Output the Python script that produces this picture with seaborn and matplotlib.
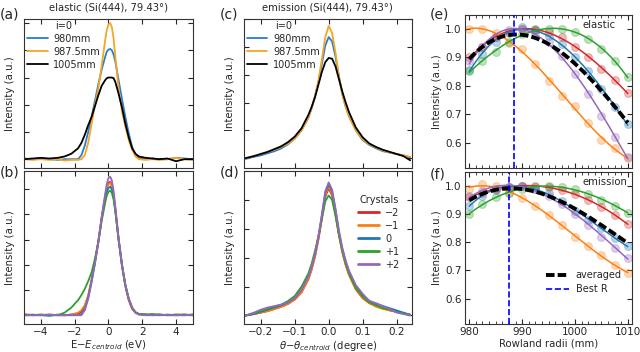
import numpy as np
import matplotlib
matplotlib.use("Agg")
import matplotlib.pyplot as plt
import seaborn as sns
from matplotlib.ticker import MultipleLocator

# ---------------- data ----------------
# (a)/(b): energy axis (eV)
x_ev = [-5, -4.5, -4, -3.5, -3, -2.6, -2.2, -1.8, -1.6, -1.4, -1.2, -1.0, -0.8, -0.6,
        -0.4, -0.2, -0.1, 0, 0.1, 0.2, 0.3, 0.4, 0.6, 0.8, 1.0, 1.2, 1.4, 1.6, 1.8, 2.2,
        2.6, 3, 3.5, 4, 4.5, 5]

el_980 = [0.005, 0.0, 0.005, 0.0, -0.005, 0.0, 0.0, 0.0, 0.03, 0.1, 0.2, 0.31, 0.43, 0.55,
          0.66, 0.75, 0.79, 0.805, 0.81, 0.8, 0.77, 0.72, 0.58, 0.44, 0.31, 0.19, 0.09,
          0.03, 0.01, 0.0, 0.005, 0.0, 0.0, 0.01, 0.005, 0.0]
el_9875 = [0.0, -0.005, 0.0, -0.005, 0.0, -0.01, -0.005, -0.005, 0.0, 0.03, 0.12, 0.26,
           0.4, 0.52, 0.69, 0.87, 0.95, 0.99, 1.0, 0.97, 0.89, 0.76, 0.52, 0.35, 0.24,
           0.14, 0.07, 0.02, 0.0, -0.005, 0.0, -0.005, 0.0, 0.01, 0.0, -0.005]
el_1005 = [0.0, 0.005, 0.01, 0.005, 0.01, 0.02, 0.04, 0.08, 0.12, 0.18, 0.25, 0.31, 0.39,
           0.47, 0.54, 0.58, 0.595, 0.6, 0.6, 0.6, 0.595, 0.57, 0.48, 0.38, 0.26, 0.16,
           0.08, 0.04, 0.02, 0.01, 0.005, 0.0, 0.005, -0.015, 0.0, 0.0]

el_m2 = [0.005, 0.0, 0.0, 0.005, 0.0, 0.0, 0.005, 0.01, 0.03, 0.07, 0.15, 0.28, 0.43, 0.59,
         0.78, 0.94, 1.01, 1.05, 1.06, 1.03, 0.96, 0.85, 0.6, 0.39, 0.23, 0.12, 0.05, 0.02,
         0.01, 0.005, 0.0, 0.005, 0.0, 0.0, 0.005, 0.0]
el_m1 = [0.01, 0.0, 0.005, 0.0, 0.0, 0.0, 0.005, 0.02, 0.04, 0.08, 0.16, 0.28, 0.42, 0.58,
         0.77, 0.93, 1.0, 1.04, 1.05, 1.02, 0.95, 0.84, 0.6, 0.39, 0.23, 0.12, 0.05, 0.02,
         0.005, 0.0, 0.005, 0.0, 0.0, 0.005, 0.0, 0.0]
el_0 = [0.0, 0.005, 0.0, -0.005, 0.005, 0.0, 0.0, 0.0, 0.01, 0.05, 0.14, 0.27, 0.42, 0.58,
        0.77, 0.92, 0.98, 1.01, 1.02, 1.0, 0.94, 0.84, 0.6, 0.4, 0.24, 0.13, 0.06, 0.02,
        0.01, 0.005, 0.0, 0.0, 0.005, 0.0, 0.0, 0.005]
el_p1 = [0.0, 0.0, 0.005, 0.0, 0.0, 0.02, 0.06, 0.12, 0.16, 0.21, 0.27, 0.34, 0.45, 0.58,
         0.75, 0.89, 0.95, 0.98, 0.99, 0.97, 0.92, 0.83, 0.6, 0.4, 0.24, 0.13, 0.06, 0.025,
         0.01, 0.005, 0.01, 0.005, 0.0, 0.005, 0.005, 0.0]
el_p2 = [0.0, 0.0, 0.0, 0.005, 0.0, 0.0, 0.0, 0.0, 0.0, 0.04, 0.13, 0.26, 0.41, 0.58,
         0.78, 0.96, 1.04, 1.09, 1.1, 1.07, 0.99, 0.87, 0.61, 0.4, 0.24, 0.13, 0.06, 0.02,
         0.005, 0.0, 0.0, 0.005, 0.0, 0.0, 0.0, 0.005]

# (c)/(d): angle axis (degree)
x_th = [-0.245, -0.22, -0.2, -0.18, -0.16, -0.14, -0.12, -0.1, -0.08, -0.06, -0.05, -0.04,
        -0.03, -0.02, -0.01, 0, 0.01, 0.02, 0.03, 0.04, 0.05, 0.06, 0.08, 0.1, 0.12, 0.14,
        0.16, 0.18, 0.2, 0.22, 0.24]

em_980 = [-0.005, 0.01, 0.02, 0.035, 0.05, 0.07, 0.1, 0.14, 0.2, 0.29, 0.36, 0.45, 0.55,
          0.68, 0.81, 0.87, 0.84, 0.73, 0.59, 0.46, 0.37, 0.3, 0.2, 0.13, 0.095, 0.07, 0.05,
          0.04, 0.03, 0.02, 0.005]
em_9875 = [0.0, 0.015, 0.03, 0.045, 0.06, 0.08, 0.105, 0.14, 0.2, 0.29, 0.36, 0.45, 0.56,
           0.71, 0.87, 0.95, 0.9, 0.76, 0.59, 0.46, 0.37, 0.3, 0.2, 0.135, 0.1, 0.075, 0.055,
           0.04, 0.03, 0.02, 0.01]
em_1005 = [0.0, 0.015, 0.03, 0.045, 0.065, 0.085, 0.115, 0.155, 0.215, 0.31, 0.37, 0.44,
           0.53, 0.62, 0.69, 0.72, 0.715, 0.66, 0.57, 0.48, 0.4, 0.33, 0.22, 0.15, 0.105,
           0.08, 0.06, 0.045, 0.03, 0.015, -0.015]

em_m2 = [0.0, 0.01, 0.02, 0.03, 0.045, 0.06, 0.08, 0.11, 0.16, 0.25, 0.32, 0.41, 0.53, 0.67,
         0.82, 0.88, 0.83, 0.7, 0.56, 0.44, 0.35, 0.28, 0.18, 0.12, 0.085, 0.065, 0.05,
         0.035, 0.025, 0.015, 0.005]
em_m1 = [0.0, 0.01, 0.02, 0.03, 0.045, 0.06, 0.08, 0.11, 0.16, 0.25, 0.32, 0.41, 0.53, 0.68,
         0.83, 0.895, 0.84, 0.71, 0.56, 0.44, 0.35, 0.28, 0.18, 0.12, 0.085, 0.06, 0.045,
         0.035, 0.025, 0.015, 0.005]
em_0 = [0.0, 0.01, 0.025, 0.04, 0.055, 0.07, 0.09, 0.12, 0.18, 0.27, 0.34, 0.43, 0.55, 0.69,
        0.85, 0.91, 0.86, 0.73, 0.58, 0.46, 0.37, 0.3, 0.2, 0.14, 0.1, 0.08, 0.065, 0.05,
        0.035, 0.02, 0.005]
em_p1 = [0.0, 0.015, 0.03, 0.045, 0.06, 0.075, 0.1, 0.135, 0.2, 0.29, 0.36, 0.45, 0.55, 0.67,
         0.79, 0.83, 0.8, 0.69, 0.56, 0.45, 0.36, 0.29, 0.19, 0.13, 0.09, 0.07, 0.05, 0.04,
         0.025, 0.015, 0.005]
em_p2 = [0.0, 0.02, 0.04, 0.055, 0.065, 0.075, 0.09, 0.12, 0.18, 0.27, 0.34, 0.43, 0.55,
         0.7, 0.86, 0.92, 0.87, 0.74, 0.59, 0.47, 0.38, 0.31, 0.21, 0.15, 0.1, 0.085, 0.065,
         0.045, 0.02, 0.01, 0.0]

# (e)/(f): normalised intensity vs Rowland radius
radii = [980, 982.5, 985, 987.5, 990, 992.5, 995, 997.5, 1000, 1002.5, 1005, 1007.5, 1010]

e_m2 = [0.90, 0.935, 0.97, 0.99, 1.0, 1.0, 0.99, 0.97, 0.935, 0.9, 0.86, 0.82, 0.775]
e_m1 = [1.0, 1.0, 0.985, 0.95, 0.93, 0.875, 0.815, 0.765, 0.73, 0.67, 0.61, 0.58, 0.545]
e_0 = [0.855, 0.91, 0.955, 0.985, 1.005, 0.995, 0.975, 0.945, 0.9, 0.85, 0.79, 0.725, 0.665]
e_p1 = [0.85, 0.885, 0.92, 0.955, 0.98, 0.995, 1.0, 1.0, 0.99, 0.965, 0.93, 0.885, 0.83]
e_p2 = [0.885, 0.935, 0.97, 0.995, 1.0, 0.985, 0.955, 0.905, 0.84, 0.77, 0.695, 0.62, 0.55]

f_m2 = [0.96, 0.975, 0.99, 0.995, 1.0, 1.0, 0.995, 0.985, 0.97, 0.95, 0.925, 0.895, 0.865]
f_m1 = [0.99, 1.005, 1.0, 0.975, 0.955, 0.93, 0.895, 0.86, 0.82, 0.785, 0.755, 0.72, 0.69]
f_0 = [0.93, 0.965, 0.985, 0.995, 1.0, 0.99, 0.975, 0.945, 0.91, 0.88, 0.85, 0.815, 0.785]
f_p1 = [0.9, 0.935, 0.96, 0.975, 0.99, 0.995, 1.0, 0.995, 0.99, 0.97, 0.95, 0.93, 0.905]
f_p2 = [0.965, 0.98, 0.99, 0.995, 1.0, 0.99, 0.965, 0.935, 0.9, 0.86, 0.82, 0.78, 0.745]

best_r_elastic = 988.5
best_r_emission = 987.5

radius_labels = ["980mm", "987.5mm", "1005mm"]
crystal_labels = ["\u22122", "\u22121", "0", "+1", "+2"]

# ---------------- style ----------------
sns.set_style("ticks")
plt.rcParams.update({
    "font.family": ["DejaVu Sans"],
    "font.size": 7.3,
    "axes.labelsize": 7.3,
    "axes.titlesize": 7.2,
    "xtick.labelsize": 7.5,
    "ytick.labelsize": 7.5,
    "legend.fontsize": 7,
    "legend.title_fontsize": 7,
    "xtick.direction": "in",
    "ytick.direction": "in",
    "xtick.top": True,
    "ytick.right": True,
    "xtick.major.size": 3.5,
    "ytick.major.size": 3.5,
    "xtick.major.pad": 2.5,
    "ytick.major.pad": 2.5,
    "axes.edgecolor": "#333333",
    "axes.linewidth": 0.8,
})

radius_colors = ["#2a7bd4", "#f5a623", "black"]
crystal_colors = ["tab:red", "tab:orange", "tab:blue", "tab:green", "tab:purple"]

fig = plt.figure(figsize=(6.4, 3.52), dpi=100)
ax_a = fig.add_axes([0.0375, 0.523, 0.264, 0.423])
ax_b = fig.add_axes([0.0375, 0.0795, 0.264, 0.435])
ax_c = fig.add_axes([0.381, 0.523, 0.2625, 0.423])
ax_d = fig.add_axes([0.381, 0.0795, 0.2625, 0.435])
ax_e = fig.add_axes([0.7266, 0.522, 0.261, 0.436])
ax_f = fig.add_axes([0.7266, 0.0795, 0.261, 0.432])


def draw_lines(ax, x, series, colors, labels, lw):
    for y, c, lab in zip(series, colors, labels):
        sns.lineplot(x=x, y=y, ax=ax, color=c, lw=lw, label=lab,
                     estimator=None, sort=False)


def radius_legend(ax):
    ax.legend(title="i=0", loc="upper left", frameon=False, handlelength=2.1,
              handletextpad=0.6, labelspacing=0.3, borderaxespad=0.1,
              bbox_to_anchor=(-0.01, 1.02))


# (a) elastic, three radii
draw_lines(ax_a, x_ev, [el_980, el_9875, el_1005], radius_colors, radius_labels, 1.3)
ax_a.set_xlim(-5, 5)
ax_a.set_ylim(-0.064, 1.03)
ax_a.set_title("elastic (Si(444), 79.43\u00b0)", pad=6)
radius_legend(ax_a)

# (b) elastic, five crystals
draw_lines(ax_b, x_ev, [el_m2, el_m1, el_0, el_p1, el_p2], crystal_colors,
           [None] * 5, 1.3)
ax_b.set_xlim(-5, 5)
ax_b.set_ylim(-0.07, 1.146)
ax_b.set_xlabel("E$-E_{centroid}$ (eV)", labelpad=1)

# (c) emission, three radii
draw_lines(ax_c, x_th, [em_980, em_9875, em_1005], radius_colors, radius_labels, 1.3)
ax_c.set_xlim(-0.25, 0.245)
ax_c.set_ylim(-0.07, 0.97)
ax_c.set_title("emission (Si(444), 79.43\u00b0)", pad=6)
radius_legend(ax_c)

# (d) emission, five crystals
draw_lines(ax_d, x_th, [em_m2, em_m1, em_0, em_p1, em_p2], crystal_colors,
           crystal_labels, 1.3)
ax_d.set_xlim(-0.25, 0.245)
ax_d.set_ylim(-0.059, 0.972)
ax_d.set_xlabel("$\\theta$$-\\theta_{centroid}$ (degree)", labelpad=1)
leg = ax_d.legend(title="Crystals", loc="upper right", frameon=False,
                  handlelength=2.1, handletextpad=0.7, labelspacing=0.3,
                  bbox_to_anchor=(0.98, 0.9))
for h in leg.get_lines():
    h.set_linewidth(2)

for ax in (ax_a, ax_b, ax_c, ax_d):
    ax.set_yticks([0, 0.2, 0.4, 0.6, 0.8, 1.0])
    ax.set_yticklabels([])
    ax.set_ylabel("Intensity (a.u.)", labelpad=4)
ax_a.set_xticks([-4, -2, 0, 2, 4])
ax_b.set_xticks([-4, -2, 0, 2, 4])
ax_a.set_xticklabels([])
ax_c.set_xticks([-0.2, -0.1, 0.0, 0.1, 0.2])
ax_d.set_xticks([-0.2, -0.1, 0.0, 0.1, 0.2])
ax_c.set_xticklabels([])

# (e)/(f) Rowland radius scans with cubic fits
r_fine = np.linspace(980, 1010, 200)


def draw_scan(ax, series, best_r, tag, tag_x, show_legend):
    fits = []
    for y, c in zip(series, crystal_colors):
        fit = np.polyval(np.polyfit(radii, y, 3), r_fine)
        fits.append(fit)
        sns.scatterplot(x=radii, y=y, ax=ax, color=c, s=32, alpha=0.3,
                        edgecolor=c, linewidth=0.8, zorder=2)
        sns.lineplot(x=r_fine, y=fit, ax=ax, color=c, lw=1.1, estimator=None,
                     sort=False, zorder=3)
    avg = np.mean(fits, axis=0)
    sns.lineplot(x=r_fine, y=avg, ax=ax, color="black", lw=2.8, estimator=None,
                 sort=False, zorder=4, label="averaged" if show_legend else None)
    ax.lines[-1].set_dashes((2.2, 0.8))
    ax.axvline(best_r, color="blue", lw=1.2, ls="--", zorder=5,
               label="Best R" if show_legend else None)
    ax.set_xlim(979.2, 1010.8)
    ax.set_ylim(0.51, 1.049)
    ax.set_yticks([0.6, 0.7, 0.8, 0.9, 1.0])
    ax.set_xticks([980, 990, 1000, 1010])
    ax.xaxis.set_minor_locator(MultipleLocator(1.25))
    ax.tick_params(axis="x", which="minor", direction="in", top=True, length=2)
    ax.set_ylabel("Intensity (a.u.)", labelpad=2)
    ax.text(tag_x, 0.965, tag, transform=ax.transAxes, ha="right", va="top")
    if show_legend:
        ax.legend(loc="lower right", frameon=False, handlelength=2.3,
                  handletextpad=0.7, bbox_to_anchor=(0.99, 0.14), labelspacing=0.4)
    elif ax.get_legend() is not None:
        ax.get_legend().remove()


draw_scan(ax_e, [e_m2, e_m1, e_0, e_p1, e_p2], best_r_elastic, "elastic", 0.9, False)
draw_scan(ax_f, [f_m2, f_m1, f_0, f_p1, f_p2], best_r_emission, "emission", 0.97, True)
ax_e.set_xticklabels([])
ax_f.set_xlabel("Rowland radii (mm)", labelpad=1)

# panel letters
for lab, (xx, yy) in zip("abcdef", [(0.0, 0.958), (0.0, 0.51), (0.343, 0.958),
                                     (0.343, 0.51), (0.671, 0.958), (0.671, 0.505)]):
    fig.text(xx, yy, f"({lab})", fontsize=10, ha="left", va="center")

fig.savefig("out.png", dpi=100)
